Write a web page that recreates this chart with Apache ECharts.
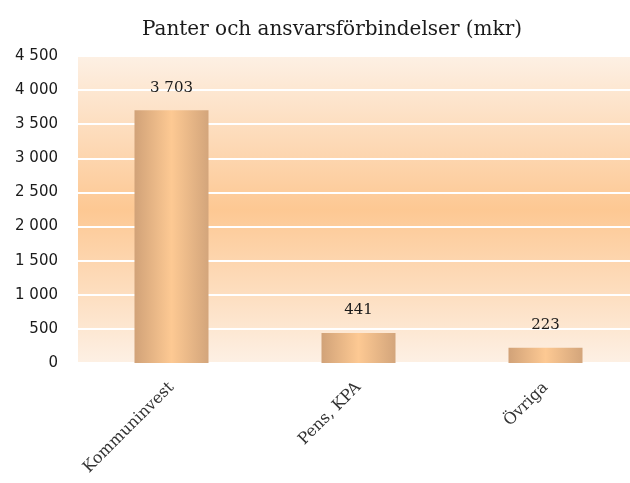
<!DOCTYPE html>
<html>
<head>
<meta charset="utf-8">
<script src="https://cdn.jsdelivr.net/npm/echarts@6/dist/echarts.min.js"></script>
<style>html,body{margin:0;padding:0;background:#fff}#c{width:630px;height:483px}</style>
</head>
<body>
<div id="c"></div>
<script>
const titleText = 'Panter och ansvarsförbindelser (mkr)';
const categories = ['Kommuninvest', 'Pens, KPA', 'Övriga'];
const values = [3703, 441, 223];
const yMin = 0, yMax = 4500, yStep = 500;

function fmt(v) {
  return String(v).replace(/\B(?=(\d{3})+(?!\d))/g, ' ');
}

const chart = echarts.init(document.getElementById('c'), null, {renderer: 'canvas'});
chart.setOption({
  animation: false,
  title: {
    text: titleText,
    left: 327, top: 15, textAlign: 'center',
    textStyle: {fontFamily: 'DejaVu Serif', fontWeight: 'normal', fontSize: 20, color: '#1a1a1a'}
  },
  grid: {
    left: 78, top: 56, width: 561, height: 307,
    outerBoundsMode: 'none',
    show: true, borderWidth: 0,
    backgroundColor: new echarts.graphic.LinearGradient(0, 0, 0, 1, [
      {offset: 0, color: '#fdf0e4'},
      {offset: 0.5, color: '#fdc893'},
      {offset: 1, color: '#fdf0e4'}
    ])
  },
  xAxis: {
    type: 'category', data: categories,
    axisLine: {show: false}, axisTick: {show: false},
    axisLabel: {
      rotate: 45, margin: 22, interval: 0,
      fontFamily: 'DejaVu Serif', fontSize: 16, color: '#333'
    }
  },
  yAxis: {
    type: 'value', min: yMin, max: yMax, interval: yStep,
    axisLine: {show: false}, axisTick: {show: false},
    splitLine: {lineStyle: {color: '#ffffff', width: 2}},
    axisLabel: {
      margin: 20, formatter: fmt,
      fontFamily: 'DejaVu Sans', fontSize: 15, color: '#1a1a1a'
    }
  },
  series: [{
    type: 'bar', data: values, barWidth: 74,
    itemStyle: {
      color: new echarts.graphic.LinearGradient(0, 0, 1, 0, [
        {offset: 0, color: '#d1a278'},
        {offset: 0.5, color: '#fdc993'},
        {offset: 1, color: '#d3a57b'}
      ])
    },
    label: {
      show: true, position: 'top', distance: 15,
      formatter: p => fmt(p.value),
      fontFamily: 'DejaVu Serif', fontSize: 15, color: '#1a1a1a'
    }
  }]
});
</script>
</body>
</html>
